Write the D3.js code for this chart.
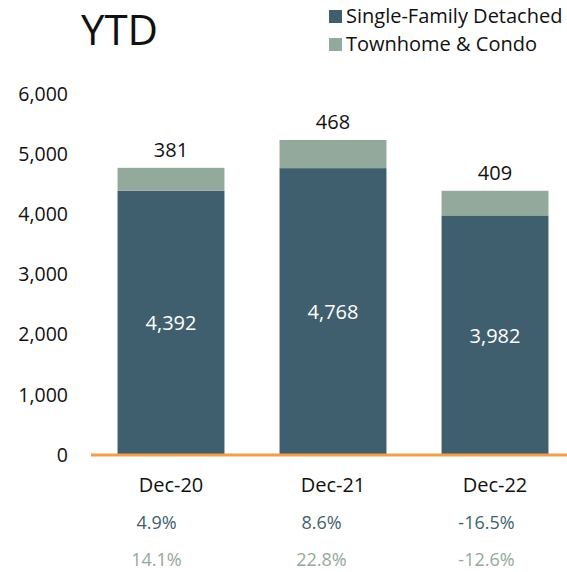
<!DOCTYPE html>
<html>
<head>
<meta charset="utf-8">
<script src="https://cdn.jsdelivr.net/npm/d3@7"></script>
<style>
  body { margin: 0; background: #fff; }
  text { font-family: "Open Sans", sans-serif; }
</style>
</head>
<body>
<div id="chart"></div>
<script>
const periods = ["Dec-20", "Dec-21", "Dec-22"]
const singleFamily = [4392, 4768, 3982]
const townhome = [381, 468, 409]
const sfChange = ["4.9%", "8.6%", "-16.5%"]
const thChange = ["14.1%", "22.8%", "-12.6%"]
const yTicks = [0, 1000, 2000, 3000, 4000, 5000, 6000]

const DARK = "#3f5f6e"
const LIGHT = "#93a99b"
const ORANGE = "#f0a04b"

const width = 567
const height = 572

const svg = d3.select("#chart")
  .append("svg")
  .attr("width", width)
  .attr("height", height)

const x = d3.scaleBand()
  .domain(periods)
  .range([90, 576])
  .paddingInner(0.34)
  .paddingOuter(0.17)

// percent rows sit a little left of the bar centres
const xPct = d3.scaleBand()
  .domain(periods)
  .range([74, 569])

const y = d3.scaleLinear()
  .domain([0, 6000])
  .range([455, 94])

// y axis labels only
const yAxis = svg.append("g")
  .attr("transform", "translate(68,0)")
  .call(d3.axisLeft(y).tickValues(yTicks).tickSize(0).tickPadding(0).tickFormat(d3.format(",")))
yAxis.select(".domain").remove()
yAxis.selectAll("text")
  .attr("font-family", "Open Sans, sans-serif")
  .attr("font-size", "19.5px")
  .attr("fill", "#111")

// stacked bars
periods.forEach((p, i) => {
  const sf = singleFamily[i]
  const th = townhome[i]
  svg.append("rect")
    .attr("x", x(p))
    .attr("y", y(sf))
    .attr("width", x.bandwidth())
    .attr("height", y(0) - y(sf))
    .attr("fill", DARK)
  svg.append("rect")
    .attr("x", x(p))
    .attr("y", y(sf + th))
    .attr("width", x.bandwidth())
    .attr("height", y(sf) - y(sf + th))
    .attr("fill", LIGHT)

  const cx = x(p) + x.bandwidth() / 2
  svg.append("text")
    .attr("x", cx)
    .attr("y", (y(0) + y(sf)) / 2)
    .attr("text-anchor", "middle")
    .attr("dominant-baseline", "central")
    .attr("fill", "#fff")
    .attr("font-size", "20px")
    .text(d3.format(",")(sf))
  svg.append("text")
    .attr("x", cx)
    .attr("y", y(sf + th) - 11)
    .attr("text-anchor", "middle")
    .attr("fill", "#111")
    .attr("font-size", "20px")
    .text(th)

  svg.append("text")
    .attr("x", cx)
    .attr("y", 492)
    .attr("text-anchor", "middle")
    .attr("fill", "#111")
    .attr("font-size", "20px")
    .text(p)

  const px = xPct(p) + xPct.bandwidth() / 2
  svg.append("text")
    .attr("x", px)
    .attr("y", 529)
    .attr("text-anchor", "middle")
    .attr("fill", DARK)
    .attr("font-size", "18px")
    .text(sfChange[i])
  svg.append("text")
    .attr("x", px)
    .attr("y", 566)
    .attr("text-anchor", "middle")
    .attr("fill", LIGHT)
    .attr("font-size", "18px")
    .text(thChange[i])
})

// baseline
svg.append("line")
  .attr("x1", 91)
  .attr("x2", width)
  .attr("y1", y(0))
  .attr("y2", y(0))
  .attr("stroke", ORANGE)
  .attr("stroke-width", 3)

// title
svg.append("text")
  .attr("x", 81)
  .attr("y", 45)
  .attr("fill", "#111")
  .attr("font-size", "42px")
  .text("YTD")

// legend
const legend = [["Single-Family Detached", DARK], ["Townhome & Condo", LIGHT]]
legend.forEach(([label, color], i) => {
  svg.append("rect")
    .attr("x", 329)
    .attr("y", 10 + i * 28)
    .attr("width", 13)
    .attr("height", 13)
    .attr("fill", color)
  svg.append("text")
    .attr("x", 346)
    .attr("y", 23 + i * 28)
    .attr("fill", "#111")
    .attr("font-size", "20px")
    .text(label)
})
</script>
</body>
</html>
